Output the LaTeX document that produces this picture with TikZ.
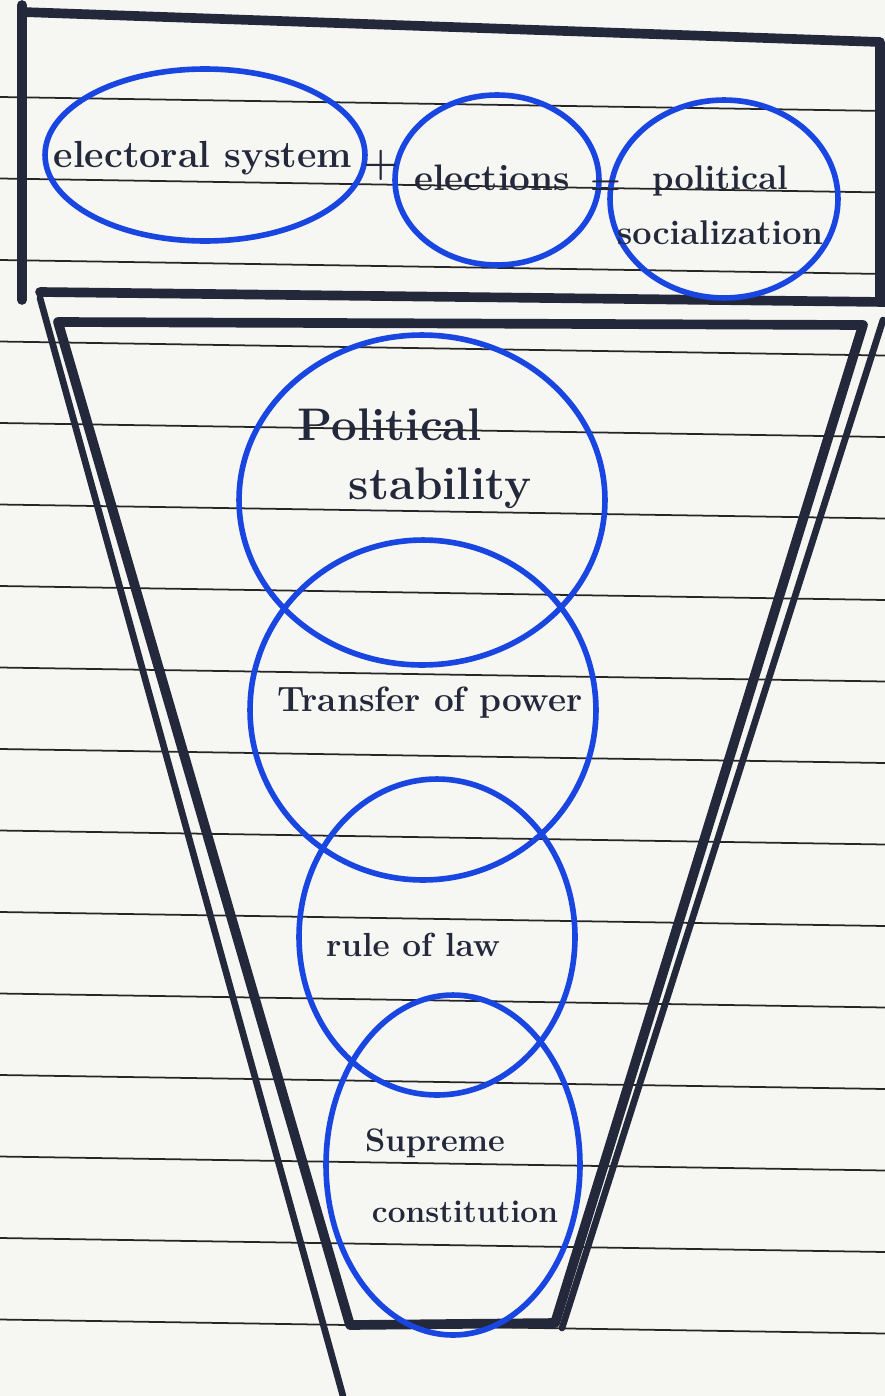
\documentclass[tikz,border=0pt]{standalone}
\usepackage{tikz}
\usetikzlibrary{shapes.geometric}
\definecolor{inkblue}{RGB}{25,70,225}
\definecolor{inkblack}{RGB}{35,40,58}
\definecolor{paper}{RGB}{246,246,243}

\begin{document}
\begin{tikzpicture}[x=0.02cm, y=-0.02cm,
  ring/.style={draw=inkblue, line width=3.2pt, ellipse, inner sep=0pt},
  hand/.style={text=inkblack, font=\bfseries\fontsize{20}{24}\selectfont, align=center},
  frame/.style={draw=inkblack, line width=5.5pt, line cap=round, line join=round},
  thinframe/.style={draw=inkblack, line width=3.8pt, line cap=round},
  ruled/.style={draw=black!85, line width=1pt}]
  \fill[paper] (0,0) rectangle (885,1396);
  \useasboundingbox (0,0) rectangle (885,1396);
  % ruled paper
  \foreach \k in {0,...,15}
    \draw[ruled] (0,{97+81.5*\k}) -- (885,{111+81.5*\k});
  % top box
  \draw[frame] (22,5) -- (22,300);
  \draw[frame] (22,12) -- (880,42) -- (880,300);
  \draw[frame] (40,292) -- (885,302);
  % funnel, double outline
  \draw[thinframe] (40,298) -- (343,1396);
  \draw[thinframe] (883,320) -- (562,1328);
  \draw[frame] (58,322) -- (863,325) -- (555,1323) -- (350,1325) -- cycle;
  % equation circles
  \node[ring, minimum width=6.4cm, minimum height=3.44cm] (sys) at (205,155) {};
  \node[ring, minimum width=4.08cm, minimum height=3.4cm] (elec) at (497,180) {};
  \node[ring, minimum width=4.56cm, minimum height=3.96cm] (soc) at (724,199) {};
  \node[hand, font=\bfseries\fontsize{21.5}{26}\selectfont] (t-sys) at (203,158) {electoral system};
  \node[hand, font=\bfseries\fontsize{23}{26}\selectfont] (t-plus) at (381,165) {+};
  \node[hand, font=\bfseries\fontsize{21}{25}\selectfont] (t-elec) at (492,178) {elections};
  \node[hand] (t-eq) at (606,188) {=};
  \node[hand, font=\bfseries\fontsize{19.5}{31}\selectfont] (t-soc) at (720,205) {political\\socialization};
  % stacked circles in the funnel
  \node[ring, minimum width=7.32cm, minimum height=6.6cm] (stab) at (422,500) {};
  \node[ring, minimum width=6.92cm, minimum height=6.8cm] (trans) at (423,710) {};
  \node[ring, minimum width=5.52cm, minimum height=6.32cm] (law) at (437,937) {};
  \node[ring, minimum width=5.08cm, minimum height=6.8cm] (const) at (453,1165) {};
  \node[hand, font=\bfseries\fontsize{26}{30}\selectfont] (t-stab1) at (390,425) {Political};
  \node[hand, font=\bfseries\fontsize{26}{30}\selectfont] (t-stab2) at (440,488) {stability};
  \node[hand] (t-trans) at (430,703) {Transfer of power};
  \node[hand, font=\bfseries\fontsize{19}{23}\selectfont] (t-law) at (413,945) {rule of law};
  \node[hand, font=\bfseries\fontsize{18.5}{22}\selectfont] (t-const1) at (435,1143) {Supreme};
  \node[hand, font=\bfseries\fontsize{18}{22}\selectfont] (t-const2) at (465,1212) {constitution};
\end{tikzpicture}
\end{document}
